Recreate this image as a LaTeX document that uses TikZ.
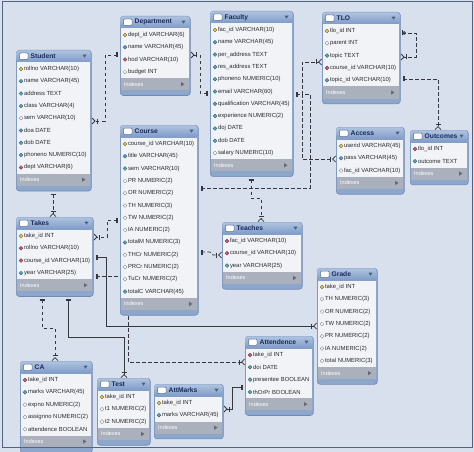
\documentclass[tikz,border=0pt]{standalone}
\usepackage{fontspec}
\setmainfont{Liberation Sans}
\usetikzlibrary{arrows.meta}
\pgfdeclarelayer{back}
\pgfdeclarelayer{background}
\pgfsetlayers{back,background,main}
\definecolor{canvas}{HTML}{D8E0EE}
\definecolor{framecol}{HTML}{56627E}
\definecolor{boxcol}{HTML}{8CA6CC}
\definecolor{boxline}{HTML}{6D89B4}
\definecolor{hdtop}{HTML}{AFC3E0}
\definecolor{hdbot}{HTML}{7D9AC6}
\definecolor{bodycol}{HTML}{F1F3F7}
\definecolor{footcol}{HTML}{AAB1BD}
\definecolor{titlecol}{HTML}{1B2A5C}
\definecolor{rowcol}{HTML}{2C2C30}
\definecolor{linecol}{HTML}{35383F}
\definecolor{icpk}{HTML}{E6C84A}
\definecolor{icnn}{HTML}{5AA9B9}
\definecolor{icnu}{HTML}{FFFFFF}
\definecolor{icfk}{HTML}{C8606A}

\tikzset{
  tablebox/.style={draw=boxline,fill=boxcol,rounded corners=3,inner sep=0,line width=0.6},
  titletext/.style={font=\fontsize{6.7}{8}\selectfont\bfseries,text=titlecol,inner sep=0},
  rowtext/.style={font=\fontsize{5.9}{7}\selectfont,text=rowcol,inner sep=0},
  foottext/.style={font=\fontsize{5.5}{7}\selectfont,text=white,inner sep=0},
  idrel/.style={draw=linecol,line width=0.8},
  nirel/.style={idrel,dash pattern=on 3.5pt off 2.5pt},
  onemany/.style={arrows={Bar[width=5pt,sep=2.2pt]Bar[width=5pt]}-{Bar[width=5pt,sep=1pt]Straight Barb[reversed,length=3pt,width=6pt]}},
  zeromany/.style={arrows={Bar[width=5pt,sep=1pt]Circle[open,length=3.5pt,width=3.5pt]}-{Bar[width=5pt,sep=1pt]Straight Barb[reversed,length=3pt,width=6pt]}},
}

% #1 name, #2 left, #3 top, #4 width, #5 rows, #6 title, #7 icon/text list
\newcommand{\ertable}[7]{%
  \pgfmathsetmacro{\erbot}{#3+30+#5*12.3}%
  \pgfmathsetmacro{\erbody}{#3+13+#5*12.3}%
  \pgfmathsetmacro{\erright}{#2+#4}%
  \node[tablebox,minimum width=#4,minimum height=\erbot-#3,anchor=north west] (#1) at (#2,#3) {};
  \shade[top color=hdtop,bottom color=hdbot,rounded corners=2.5] (#2+0.4,#3+0.4) rectangle (\erright-0.4,#3+12.5);
  \fill[bodycol] (#2+1.2,#3+12.5) rectangle (\erright-1.2,\erbody);
  \fill[footcol] (#2+1.2,\erbody) rectangle (\erright-1.2,\erbody+12);
  \draw[fill=white,draw=boxline!80!black,line width=0.5,rounded corners=1] (#2+3.5,#3+3) rectangle (#2+12,#3+9.5);
  \node[titletext,anchor=west] (#1t) at (#2+14.5,#3+6.3) {#6};
  \fill[boxline!70!black] (\erright-8.5,#3+4.7) -- (\erright-4.5,#3+4.7) -- (\erright-6.5,#3+7.7) -- cycle;
  \node[foottext,anchor=west] (#1x) at (#2+4,\erbody+6) {Indexes};
  \fill[footcol!60!black] (\erright-9,\erbody+3.8) -- (\erright-9,\erbody+8.2) -- (\erright-5.5,\erbody+6) -- cycle;
  \foreach \ic/\tx [count=\i] in {#7}{%
    \pgfmathsetmacro{\ery}{#3+19+(\i-1)*12.3}
    \fill[fill=ic\ic,draw=ic\ic!50!black,line width=0.35] (#2+5,\ery) circle (1.9);
    \node[rowtext,anchor=west] (#1r\i) at (#2+7.8,\ery) {\tx};
  }%
}

\begin{document}
\begin{tikzpicture}[x=1pt,y=-1pt]
\useasboundingbox (0,0) rectangle (474,452);
\begin{pgfonlayer}{back}
\fill[canvas] (0,0) rectangle (474,452);
\end{pgfonlayer}

% tables
\ertable{student}{16}{50}{75}{9}{Student}{%
  pk/rollno VARCHAR(10),nn/name VARCHAR(45),nn/address TEXT,%
  nn/class VARCHAR(4),nu/sem VARCHAR(10),nn/doa DATE,nn/dob DATE,%
  nn/phoneno NUMERIC(10),fk/dept VARCHAR(6)}
\ertable{dept}{120}{16}{70}{4}{Department}{%
  pk/dept\_id VARCHAR(6),nn/name VARCHAR(45),fk/hod VARCHAR(10),nu/budget INT}
\ertable{course}{120}{125}{78}{13}{Course}{%
  pk/course\_id VARCHAR(10),nn/title VARCHAR(45),nn/sem VARCHAR(10),%
  nu/PR NUMERIC(2),nu/OR NUMERIC(2),nu/TH NUMERIC(3),nu/TW NUMERIC(2),%
  nu/IA NUMERIC(2),nn/totalM NUMERIC(3),nu/THCr NUMERIC(2),%
  nu/PRCr NUMERIC(2),nu/TuCr NUMERIC(2),nn/totalC VARCHAR(45)}
\ertable{faculty}{210}{11}{83}{11}{Faculty}{%
  pk/fac\_id VARCHAR(10),nn/name VARCHAR(45),nn/per\_address TEXT,%
  nn/res\_address TEXT,nn/phoneno NUMERIC(10),nn/email VARCHAR(60),%
  nn/qualification VARCHAR(45),nn/experience NUMERIC(2),nn/doj DATE,%
  nn/dob DATE,nu/salary NUMERIC(10)}
\ertable{tlo}{322}{12}{78}{5}{TLO}{%
  pk/tlo\_id INT,nu/parent INT,nn/topic TEXT,fk/course\_id VARCHAR(10),%
  nn/topic\_id VARCHAR(10)}
\ertable{access}{336}{127}{68}{3}{Access}{%
  pk/userid VARCHAR(45),nn/pass VARCHAR(45),nu/fac\_id VARCHAR(10)}
\ertable{outcomes}{410}{130}{58}{2}{Outcomes}{%
  fk/tlo\_id INT,nn/outcome TEXT}
\ertable{takes}{16}{217}{77}{4}{Takes}{%
  pk/take\_id INT,fk/rollno VARCHAR(10),fk/course\_id VARCHAR(10),%
  nn/year VARCHAR(25)}
\ertable{teaches}{222}{222}{80}{3}{Teaches}{%
  fk/fac\_id VARCHAR(10),fk/course\_id VARCHAR(10),nn/year VARCHAR(25)}
\ertable{grade}{317}{268}{60}{7}{Grade}{%
  pk/take\_id INT,nu/TH NUMERIC(3),nu/OR NUMERIC(2),nu/TW NUMERIC(2),%
  nu/PR NUMERIC(2),nu/IA NUMERIC(2),nu/total NUMERIC(3)}
\ertable{attend}{245}{336}{68}{4}{Attendence}{%
  fk/take\_id INT,nn/doi DATE,nn/presentee BOOLEAN,nn/thOrPr BOOLEAN}
\ertable{attmarks}{154}{384}{69}{2}{AttMarks}{%
  pk/take\_id INT,nn/marks VARCHAR(45)}
\ertable{ca}{20}{361}{72}{5}{CA}{%
  fk/take\_id INT,nn/marks VARCHAR(45),nu/expno NUMERIC(2),%
  nu/assignno NUMERIC(2),nu/attendence BOOLEAN}
\ertable{test}{97}{378}{53}{3}{Test}{%
  pk/take\_id INT,nu/t1 NUMERIC(2),nu/t2 NUMERIC(2)}

% connectors, behind the tables
\begin{pgfonlayer}{background}
\draw[nirel,onemany] (dept.west |- 0,55) -- (105,55) |- (student.east |- 0,121);
\draw[nirel,onemany] (faculty.west |- 0,93) -- (200,93) |- (dept.east |- 0,55);
\draw[nirel,onemany] (course.east |- 0,188) -| (310,94) -- (302,94) |- (tlo.west |- 0,62);
\draw[nirel,onemany] (faculty.east |- 0,94) -| (302,159) -- (access.west |- 0,159);
\draw[nirel,onemany] (faculty.south -| 251,0) -- (251,198) -| (teaches.north -| 261,0);
\draw[nirel,onemany] (course.east |- 0,252) -- (210,252) -- (213,255) -- (teaches.west |- 0,255);
\draw[nirel,onemany] (student.south -| 53,0) -- (takes.north -| 53,0);
\draw[nirel,onemany] (course.west |- 0,220) -- (107,220) |- (takes.east |- 0,237);
\draw[idrel,onemany] (takes.east |- 0,257) -| (106,326) -- (grade.west |- 0,326);
\draw[nirel,onemany] (takes.east |- 0,276) -| (128,362) -- (attend.west |- 0,362);
\draw[idrel,onemany] (takes.south -| 68,0) |- (124,337) -- (test.north -| 124,0);
\draw[nirel,onemany] (takes.south -| 42,0) |- (55,328) -- (ca.north -| 55,0);
\draw[idrel,onemany] (attend.west |- 0,387) -| (232,409) -- (attmarks.east |- 0,409);
\draw[nirel,onemany] (tlo.east |- 0,79) -| (outcomes.north -| 438,0);
\draw[nirel,zeromany] (tlo.east |- 0,33) -| (416,57) -- (tlo.east |- 0,57);
\end{pgfonlayer}

% frame
\draw[framecol,line width=1] (2.5,2) rectangle (472,447.5);
\end{tikzpicture}
\end{document}
